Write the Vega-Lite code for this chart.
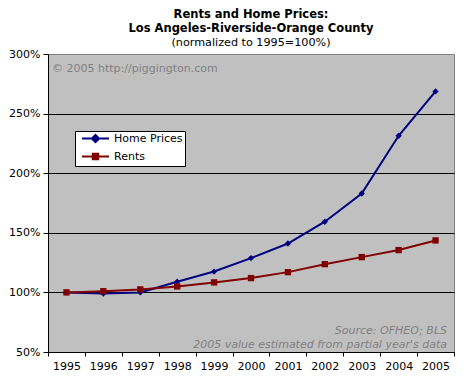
{
  "$schema": "https://vega.github.io/schema/vega-lite/v6.json",
  "width": 406,
  "height": 298,
  "autosize": "none",
  "padding": {"left": 48, "top": 54, "right": 12, "bottom": 30},
  "background": "white",
  "title": {
    "text": ["Rents and Home Prices:", "Los Angeles-Riverside-Orange County"],
    "subtitle": "(normalized to 1995=100%)",
    "anchor": "middle",
    "frame": "group",
    "font": "DejaVu Sans",
    "fontSize": 11.5,
    "fontWeight": "bold",
    "lineHeight": 14,
    "color": "black",
    "subtitleFont": "DejaVu Sans",
    "subtitleFontSize": 11.2,
    "subtitleColor": "black",
    "subtitlePadding": 2,
    "offset": 0
  },
  "datasets": {
    "series": [
      {"year": "1995", "series": "Home Prices", "value": 100},
      {"year": "1996", "series": "Home Prices", "value": 99},
      {"year": "1997", "series": "Home Prices", "value": 100},
      {"year": "1998", "series": "Home Prices", "value": 109},
      {"year": "1999", "series": "Home Prices", "value": 117.5},
      {"year": "2000", "series": "Home Prices", "value": 128.8},
      {"year": "2001", "series": "Home Prices", "value": 141},
      {"year": "2002", "series": "Home Prices", "value": 159.3},
      {"year": "2003", "series": "Home Prices", "value": 183},
      {"year": "2004", "series": "Home Prices", "value": 231.4},
      {"year": "2005", "series": "Home Prices", "value": 268.6},
      {"year": "1995", "series": "Rents", "value": 100},
      {"year": "1996", "series": "Rents", "value": 101},
      {"year": "1997", "series": "Rents", "value": 102.5},
      {"year": "1998", "series": "Rents", "value": 105},
      {"year": "1999", "series": "Rents", "value": 108.4},
      {"year": "2000", "series": "Rents", "value": 112},
      {"year": "2001", "series": "Rents", "value": 117},
      {"year": "2002", "series": "Rents", "value": 123.7},
      {"year": "2003", "series": "Rents", "value": 129.6},
      {"year": "2004", "series": "Rents", "value": 135.5},
      {"year": "2005", "series": "Rents", "value": 143.6}
    ]
  },
  "config": {
    "view": {"fill": "#C0C0C0", "stroke": "#808080", "strokeWidth": 1},
    "font": "DejaVu Sans"
  },
  "layer": [
    {
      "data": {"name": "series"},
      "mark": {"type": "line", "strokeWidth": 2},
      "encoding": {
        "x": {
          "field": "year", "type": "ordinal", "bandPosition": 0.5,
          "scale": {"type": "band", "paddingInner": 0, "paddingOuter": 0},
          "axis": {
            "title": null, "labelAngle": 0, "tickBand": "extent",
            "domainColor": "black", "tickColor": "black", "tickSize": 4,
            "labelFont": "DejaVu Sans", "labelFontSize": 11, "labelColor": "black",
            "labelPadding": 4, "grid": false
          }
        },
        "y": {
          "field": "value", "type": "quantitative",
          "scale": {"domain": [50, 300], "nice": false, "zero": false},
          "axis": {
            "title": null, "values": [50, 100, 150, 200, 250, 300],
            "labelExpr": "datum.value + '%'",
            "domainColor": "black", "tickColor": "black", "tickSize": 5,
            "labelFont": "DejaVu Sans", "labelFontSize": 11, "labelColor": "black",
            "labelPadding": 3,
            "grid": true,
            "gridColor": {"condition": {"test": "datum.value === 300 || datum.value === 50", "value": "transparent"}, "value": "black"},
            "gridOpacity": 1
          }
        },
        "color": {
          "field": "series", "type": "nominal",
          "scale": {"domain": ["Home Prices", "Rents"], "range": ["#000080", "#800000"]},
          "legend": {
            "title": null, "orient": "none", "legendX": 27, "legendY": 77,
            "symbolType": "M-3,0H3M0,-0.8L0.8,0L0,0.8L-0.8,0Z",
            "symbolSize": 81, "symbolStrokeWidth": 2,
            "fillColor": "white", "strokeColor": "black", "padding": 2,
            "labelFont": "DejaVu Sans", "labelFontSize": 11, "labelColor": "black",
            "rowPadding": 2, "labelOffset": 26,
            "encode": {
              "symbols": {
                "update": {
                  "shape": {"signal": "datum.value === 'Rents' ? 'M-3,0H3M-0.6,-0.6H0.6V0.6H-0.6Z' : 'M-3,0H3M0,-0.8L0.8,0L0,0.8L-0.8,0Z'"},
                  "xc": {"value": 18.5}
                }
              }
            }
          }
        }
      }
    },
    {
      "data": {"name": "series"},
      "mark": {"type": "point", "filled": true, "opacity": 1, "size": 40},
      "encoding": {
        "x": {"field": "year", "type": "ordinal", "bandPosition": 0.5},
        "y": {"field": "value", "type": "quantitative"},
        "color": {"field": "series", "type": "nominal", "legend": null},
        "shape": {
          "field": "series", "type": "nominal",
          "scale": {"range": ["diamond", "square"]},
          "legend": null
        }
      }
    },
    {
      "data": {"values": [{"note": "© 2005 http://piggington.com"}]},
      "mark": {"type": "text", "align": "left", "baseline": "middle", "dx": 4, "fontSize": 11, "color": "#808080"},
      "encoding": {
        "x": {"datum": "1995", "type": "ordinal", "bandPosition": 0},
        "y": {"datum": 287.4, "type": "quantitative"},
        "text": {"field": "note"}
      }
    },
    {
      "data": {"values": [
        {"note": "Source: OFHEO; BLS", "line": 67.6},
        {"note": "2005 value estimated from partial year's data", "line": 55.9}
      ]},
      "mark": {"type": "text", "align": "right", "baseline": "middle", "dx": -7, "fontSize": 11, "fontStyle": "italic", "color": "#808080"},
      "encoding": {
        "x": {"datum": "2005", "type": "ordinal", "bandPosition": 1},
        "y": {"field": "line", "type": "quantitative"},
        "text": {"field": "note"}
      }
    }
  ]
}
